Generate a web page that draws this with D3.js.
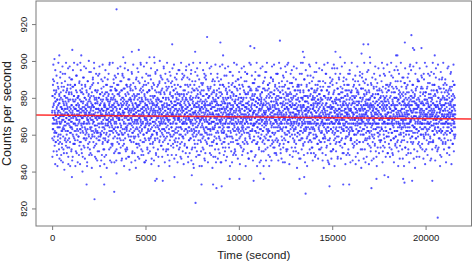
<!DOCTYPE html>
<html>
<head>
<meta charset="utf-8">
<script src="https://cdn.jsdelivr.net/npm/d3@7"></script>
<style>
body { margin: 0; background: #fff; }
svg { display: block; }
text { font-family: "Liberation Sans", Arial, sans-serif; fill: #222; }
</style>
</head>
<body>
<svg width="472" height="262"></svg>
<script>
// readings every 5 seconds: the "even" arrays hold t = 0, 10, 20 ... of each hour,
// the "odd" arrays hold t = 5, 15, 25 ...
var sampleStep = 10;
var oddOffset = 5;

var hour1Even = [
872,858,881,866,875,890,863,869,851,877,884,868,859,873,880,862,871,895,866,878,
856,870,883,861,874,867,849,879,888,864,872,857,876,869,885,860,873,852,882,867,
877,864,870,891,858,875,866,880,846,871,862,886,874,855,868,879,863,893,870,859,
884,868,873,850,876,865,881,871,857,889,867,878,862,874,854,883,869,877,860,872,
866,880,853,875,887,862,871,844,878,868,882,858,873,865,897,870,856,879,864,885,
874,861,869,883,852,876,867,890,863,872,848,879,870,886,859,875,866,881,855,871,
862,878,887,857,870,874,865,851,884,869,876,860,892,873,863,880,868,845,877,870,
881,866,859,875,871,888,854,868,879,863,874,899,861,870,856,883,872,865,878,850,
869,885,873,862,848,877,866,882,870,858,891,867,875,853,880,864,871,887,860,874,
857,872,879,866,884,861,873,843,868,876,863,889,870,855,878,867,882,859,871,894,
866,875,852,880,869,863,886,874,858,871,877,864,849,883,870,860,876,868,890,862,
873,856,881,867,875,896,861,870,879,854,865,884,872,863,877,847,869,880,858,874,
883,868,862,877,851,872,888,866,874,859,880,870,864,893,857,876,869,882,861,873,
860,879,870,846,885,867,874,862,878,871,855,889,866,873,881,858,870,864,876,852,
877,863,891,870,858,875,866,883,872,849,868,880,861,874,887,865,871,856,879,868,
865,874,857,882,869,876,862,898,871,860,878,867,884,853,873,866,880,870,845,875,
871,886,864,873,855,879,868,861,876,890,863,872,850,881,867,875,859,885,870,864,
878,862,870,884,866,852,874,869,887,858,877,864,871,893,860,876,868,882,855,872];

var hour2Even = [
869,881,858,874,866,889,871,853,877,864,884,870,861,875,847,880,868,892,863,873,
876,860,871,885,867,855,879,872,863,896,870,858,882,866,874,851,878,869,887,862,
864,877,852,870,883,868,875,860,890,873,866,879,848,871,862,886,874,857,880,869,
885,863,872,878,856,869,894,865,874,850,881,867,876,861,871,888,859,873,866,879,
858,874,867,881,870,846,877,863,885,872,855,868,891,864,876,870,853,882,868,875,
873,866,889,859,876,871,862,880,854,869,884,873,861,877,867,898,865,871,849,883,
862,879,870,874,851,886,866,872,878,860,870,887,856,875,864,881,869,845,877,868,
880,857,874,866,893,869,876,861,872,883,852,867,879,870,863,888,874,858,871,865,
870,884,862,877,868,855,881,873,866,890,859,875,869,847,878,864,885,871,860,876,
867,872,880,853,874,865,887,870,862,876,881,857,871,894,866,873,850,879,868,883,
876,861,869,886,858,877,872,864,879,848,870,883,867,874,856,889,865,872,878,862,
859,882,873,866,891,868,854,878,871,863,885,875,860,869,880,852,876,867,896,870,
883,868,857,875,870,862,888,873,866,879,851,871,864,884,877,859,869,890,872,865,
871,855,880,867,874,886,863,870,846,876,868,882,860,873,892,866,878,854,870,881,
864,877,871,889,859,872,866,881,875,853,869,884,862,876,870,857,887,868,874,861,
878,863,885,870,849,874,880,866,893,861,872,877,856,868,882,873,864,879,869,852,
869,874,860,882,867,876,855,871,886,864,878,870,847,875,863,890,872,859,880,866,
875,866,891,858,873,869,881,862,877,854,871,884,867,874,860,879,868,895,863,872];

var hour3Even = [
866,879,853,872,887,861,870,875,848,868,883,864,877,869,857,890,871,862,876,867,
873,858,881,866,870,895,863,874,852,879,868,885,860,872,866,878,844,871,884,863,
861,876,869,884,855,872,866,889,873,859,877,870,862,881,867,851,875,864,892,870,
878,865,872,857,880,869,876,862,886,871,849,874,867,883,860,873,879,856,868,875,
869,884,860,875,866,878,853,870,888,864,872,859,881,868,876,893,862,871,846,877,
857,872,879,864,890,868,874,861,870,882,855,867,876,871,863,885,873,858,880,866,
876,863,868,881,872,850,877,869,862,886,874,866,897,860,871,878,854,875,867,883,
864,880,871,856,875,867,884,863,878,870,859,889,865,873,848,879,869,876,861,871,
882,868,855,877,869,891,862,874,866,880,871,852,876,864,885,870,858,873,867,887,
870,857,876,866,883,872,845,869,878,861,874,868,887,863,871,880,866,856,875,864,
861,878,869,892,858,873,866,877,853,870,884,867,874,860,879,871,848,882,869,876,
875,866,880,862,871,855,886,870,864,877,869,894,859,872,867,881,873,861,876,851,
868,883,859,874,866,879,871,888,863,856,875,869,882,866,873,850,878,864,870,886,
877,862,872,867,849,881,874,860,869,885,866,876,857,871,890,864,879,868,855,873,
863,875,887,858,870,866,882,873,854,877,869,862,880,871,866,896,860,874,878,867,
871,856,868,879,864,876,852,884,870,861,873,889,866,875,857,869,882,863,877,870,
880,867,874,861,893,869,877,855,872,866,883,870,847,878,864,871,886,859,873,868,
858,873,866,885,870,862,879,868,876,851,874,881,863,870,888,865,872,857,879,866];

var hour4Even = [
872,865,881,857,876,869,890,862,873,866,849,878,870,884,861,875,867,855,880,871,
864,877,868,886,859,872,866,879,853,874,870,892,863,876,858,882,869,873,846,878,
879,860,874,867,883,871,856,876,868,888,862,870,877,851,873,866,885,859,872,869,
866,884,871,852,878,865,873,894,860,869,881,867,875,862,870,857,887,874,863,877,
873,857,880,868,862,876,848,871,883,866,874,859,891,870,878,864,869,880,855,872,
861,875,866,889,873,856,870,878,864,882,871,853,876,868,886,861,874,867,879,850,
877,868,858,874,881,866,893,862,872,876,857,884,869,865,873,888,854,871,866,880,
869,883,872,863,850,877,867,880,871,859,875,866,886,862,877,870,845,873,882,864,
855,871,886,869,876,861,874,868,897,857,870,879,864,872,852,881,867,875,860,889,
874,862,868,881,856,873,879,866,870,885,861,872,876,849,868,883,871,863,878,867,
882,866,875,853,870,888,864,877,869,872,858,880,867,891,862,874,866,856,876,871,
860,876,869,884,863,871,851,879,874,866,882,870,859,875,868,887,861,873,880,865,
871,887,857,873,866,878,869,862,884,870,847,876,864,880,873,858,869,893,867,875,
866,872,880,861,876,854,883,868,875,863,890,869,873,856,878,866,881,870,862,874,
878,863,871,886,858,870,867,875,850,881,872,864,877,869,884,860,873,866,888,857,
863,881,874,867,892,861,876,869,872,856,879,866,885,871,853,874,868,880,864,877,
875,858,866,879,870,884,862,873,848,877,869,883,860,872,866,894,875,859,870,881,
868,876,887,855,873,866,879,870,863,882,857,871,877,865,889,869,852,878,872,861];

var hour5Even = [
870,856,879,867,884,862,873,868,850,877,865,889,871,858,875,866,881,860,874,869,
881,866,872,858,876,893,863,870,877,853,868,884,861,873,866,879,846,871,886,864,
862,875,868,883,857,871,866,879,872,888,855,874,869,863,880,867,875,851,870,878,
875,861,887,870,866,852,877,864,883,869,873,860,896,866,872,878,858,868,874,863,
867,880,873,856,879,868,862,885,870,847,876,866,871,882,859,874,867,890,864,872,
856,874,866,878,870,886,861,873,857,880,868,875,863,871,853,883,869,876,866,880,
878,865,891,862,873,868,855,881,874,866,870,884,858,877,864,872,849,879,867,871,
864,882,870,875,850,876,869,863,887,871,860,873,879,866,893,862,874,868,857,883,
873,858,876,866,884,863,872,879,868,855,877,870,862,886,871,866,881,854,875,869,
860,877,868,889,865,872,848,874,881,863,869,876,857,873,867,884,870,861,878,866,
883,869,862,874,878,856,871,866,892,870,864,880,873,852,876,868,885,862,870,875,
868,852,879,870,863,885,873,867,876,860,882,869,874,866,888,857,871,878,845,872,
876,866,871,882,857,873,868,894,862,877,870,855,879,867,873,862,884,869,876,859,
861,879,874,866,880,869,851,876,872,864,887,870,860,875,866,881,873,856,868,878,
874,863,886,870,858,875,867,880,854,871,877,866,890,863,872,869,878,848,874,866,
869,884,861,873,876,866,882,859,870,879,864,872,857,885,868,875,862,880,871,853,
857,871,878,864,889,870,863,876,868,883,873,851,869,877,866,896,860,874,867,879,
880,867,873,856,871,864,885,870,878,862,869,881,874,859,876,866,887,872,850,868];

var hour6Even = [
866,878,872,859,884,868,875,853,870,887,863,874,869,881,857,872,866,892,861,876,
873,861,868,879,866,849,877,870,885,864,873,858,880,868,875,862,883,870,855,874,
859,876,886,867,872,880,862,871,856,878,869,895,864,873,867,851,879,866,884,870,
877,864,870,854,881,873,866,889,860,870,876,863,874,882,857,868,871,878,847,867,
870,883,861,876,868,857,879,872,866,888,871,853,876,864,880,869,862,886,873,866,
862,871,879,866,891,864,873,850,877,869,883,860,871,866,876,897,862,874,868,881,
879,867,856,873,870,884,862,876,869,859,880,872,865,887,856,873,878,864,870,852,
868,874,882,861,877,866,872,858,885,870,863,876,848,879,869,874,861,890,867,875,
855,880,869,875,862,889,870,866,878,854,873,867,883,871,860,877,866,872,886,863,
874,866,878,852,871,868,882,863,876,870,893,859,873,866,879,868,851,881,870,864,
883,860,871,877,866,874,857,885,869,862,878,870,866,888,872,855,876,863,880,869,
866,875,892,864,870,858,880,873,867,876,847,871,884,865,872,879,862,870,856,877,
871,856,868,881,874,866,887,860,873,869,882,864,876,853,870,891,866,875,868,862,
878,869,861,876,883,852,870,875,864,880,870,858,874,867,885,862,872,878,849,873,
863,885,874,866,857,879,868,890,870,862,876,871,855,881,866,873,887,860,869,876,
870,866,879,871,888,861,873,856,877,867,884,869,862,875,870,850,879,866,883,868,
857,877,870,884,864,872,866,880,853,874,869,886,861,877,871,866,894,863,872,878,
875,862,868,873,879,855,871,882,866,870,876,860,887,867,874,858,880,869,864,871];

var hour1Odd = [
873,848,881,863,887,869,898,857,876,866,889,861,901,854,872,882,844,878,856,870,
861,884,868,892,851,875,866,879,843,871,859,886,873,899,864,855,877,869,881,847,
879,866,856,872,894,860,883,870,849,875,867,888,853,874,862,897,871,845,878,864,
852,877,870,886,863,841,874,881,867,893,858,872,865,880,899,856,869,876,850,884,
885,862,874,857,871,896,848,879,866,870,883,853,891,868,875,861,843,887,872,864,
867,890,851,876,882,864,871,846,886,873,860,895,869,855,878,866,881,899,858,874,
870,855,887,866,843,879,874,862,892,868,876,850,883,871,865,898,857,873,880,862,
859,881,873,849,876,867,889,856,872,844,884,870,863,895,878,866,852,874,887,869,
883,864,840,875,869,891,861,878,854,873,866,897,872,858,880,847,870,886,863,876,
874,896,862,871,858,883,869,845,877,866,889,853,875,868,881,860,900,872,849,879,
856,872,885,864,878,850,873,894,868,881,862,875,842,870,887,859,876,866,891,871,
888,867,875,853,899,871,859,880,865,848,877,869,884,862,874,893,855,879,870,861,
865,846,878,870,884,861,892,874,857,869,880,851,873,897,866,876,843,882,859,872,
877,871,860,890,866,874,849,883,870,864,898,856,879,868,852,886,873,861,875,844,
848,882,869,876,857,895,865,871,887,860,873,879,842,868,883,874,856,890,866,878,
881,859,893,867,872,852,877,864,899,875,846,870,886,862,879,868,884,855,873,865,
862,876,854,882,899,869,874,858,880,871,888,863,877,845,866,892,870,879,851,884,
875,891,867,846,873,884,861,878,870,856,882,896,864,872,887,850,869,876,860,868];

var hour2Odd = [
868,883,850,874,862,897,871,857,879,865,889,846,876,870,884,860,893,872,854,878,
880,857,872,891,866,843,877,869,885,861,874,899,852,870,864,881,847,876,887,863,
853,874,886,865,878,870,895,848,872,882,859,868,876,890,841,873,866,879,857,884,
887,866,859,879,845,873,868,893,861,877,851,884,870,864,898,875,856,882,871,862,
871,850,880,868,886,859,874,877,842,890,866,872,881,855,875,867,896,863,879,848,
860,894,873,855,869,882,847,876,888,864,878,870,857,899,868,885,874,852,866,880,
878,863,891,872,856,875,867,884,849,871,860,897,873,845,882,869,858,889,864,876,
865,879,846,887,873,861,899,868,876,853,883,866,875,862,892,850,878,871,884,857,
884,872,866,851,892,870,858,879,863,896,874,844,869,886,860,877,881,855,873,867,
856,888,877,870,862,846,881,873,899,867,858,884,872,893,864,875,849,870,878,861,
876,860,895,865,880,873,852,887,869,875,843,879,863,871,888,857,900,866,874,883,
892,869,854,878,867,884,871,861,876,848,890,874,866,856,880,872,863,897,859,870,
863,877,882,845,873,866,893,858,870,880,869,886,852,875,861,899,876,868,885,849,
874,852,868,889,861,879,876,870,843,894,857,872,883,866,874,859,888,878,864,871,
849,886,875,862,896,870,880,855,871,867,884,860,898,873,847,878,869,891,856,876,
882,866,858,876,871,890,864,879,854,883,873,845,869,887,877,862,895,871,858,868,
870,895,881,853,877,864,886,848,873,860,899,876,868,882,856,874,866,893,879,851,
859,873,867,884,844,882,870,892,866,878,855,871,887,863,876,850,880,869,897,874];

var hour3Odd = [
866,882,853,875,891,862,870,878,845,886,869,873,857,898,864,876,850,880,868,887,
879,858,871,893,867,846,883,874,862,870,889,853,877,865,880,899,859,872,842,875,
857,887,876,862,872,853,894,868,880,864,875,848,871,885,860,869,896,877,855,882,
884,869,849,880,861,875,866,890,873,843,878,868,899,857,874,882,864,851,888,870,
872,843,877,865,887,858,881,869,895,874,852,884,863,870,878,847,891,867,875,861,
850,876,892,869,873,882,856,864,878,899,867,860,886,873,845,880,870,858,884,866,
881,866,860,896,854,871,885,876,863,869,893,849,874,882,867,856,877,889,842,872,
863,890,871,848,879,867,857,883,869,887,875,864,852,878,898,866,873,845,881,858,
878,855,884,873,866,893,870,847,876,861,880,871,889,859,868,883,850,874,897,864,
868,881,845,867,890,876,862,874,855,882,870,898,865,877,853,887,861,879,872,849,
886,862,874,856,877,851,896,866,880,872,846,885,868,892,875,859,870,883,864,877,
859,873,897,880,864,888,869,853,871,866,884,877,843,874,862,894,880,856,869,871,
874,887,866,845,883,870,858,892,876,849,868,881,872,862,899,865,886,870,852,878,
851,869,879,889,857,873,881,866,898,863,876,855,884,870,847,875,862,890,867,880,
877,894,861,870,874,844,885,872,859,878,867,891,853,880,869,864,876,849,887,863,
865,851,886,876,862,880,869,897,871,855,883,873,866,894,858,875,843,871,882,868,
889,875,856,867,893,864,877,850,882,870,861,886,874,847,876,869,899,860,873,884,
862,880,873,898,851,875,866,884,869,892,856,877,862,882,871,846,879,888,865,872];

var hour4Odd = [
873,859,888,866,876,848,882,869,894,862,878,871,855,885,867,899,875,843,880,864,
856,884,870,877,892,861,873,852,879,868,886,845,874,866,881,858,896,870,863,877,
880,868,851,883,865,875,897,862,870,885,857,876,843,889,872,864,879,855,871,891,
867,894,876,858,872,846,880,868,863,877,899,866,884,853,870,887,861,874,849,882,
885,862,843,874,888,869,859,881,875,854,867,891,872,878,846,883,865,897,870,857,
861,876,890,869,853,882,873,866,898,860,884,850,875,868,887,857,871,880,864,893,
878,849,867,885,877,871,856,893,864,879,870,846,881,874,862,899,868,886,873,855,
864,883,877,852,896,866,880,870,847,872,889,863,857,884,876,868,892,853,878,869,
891,870,858,880,866,874,845,887,869,860,883,877,894,864,871,851,875,882,866,898,
852,877,885,868,899,856,874,862,882,870,844,878,869,888,859,876,865,893,872,880,
875,888,866,895,860,879,869,848,876,886,865,872,851,881,897,863,870,857,884,867,
870,853,881,874,864,890,855,877,871,896,867,842,886,873,861,879,884,869,850,876,
886,866,872,847,878,860,893,868,883,857,875,869,899,862,887,874,852,880,865,871,
858,879,899,870,855,884,866,876,849,881,862,890,873,867,845,878,871,864,895,873,
881,864,874,887,869,843,878,859,892,866,880,873,856,875,884,867,898,861,870,852,
869,897,857,866,882,872,850,885,864,876,853,889,870,879,863,846,881,874,891,860,
876,850,883,863,873,894,867,880,858,870,887,849,878,865,899,872,859,884,866,877,
855,885,868,879,847,877,889,864,874,852,896,870,862,882,875,856,886,869,880,866];

var hour5Odd = [
870,884,853,876,861,895,867,879,846,872,858,886,866,874,842,881,864,898,870,856,
859,873,888,866,880,849,871,893,862,877,868,854,884,875,864,899,857,869,880,845,
882,862,870,844,875,866,886,858,891,869,876,851,880,863,872,847,889,867,874,896,
866,890,878,862,852,882,869,875,898,857,866,884,843,872,879,861,870,893,855,877,
851,877,864,888,871,859,896,868,873,848,885,870,862,879,866,891,874,856,882,868,
879,866,893,854,876,871,847,883,864,880,869,897,858,873,885,850,868,877,862,889,
863,850,876,870,887,865,878,899,855,872,844,881,874,867,859,890,876,862,884,871,
887,872,859,881,866,893,852,874,869,884,861,877,849,895,870,864,880,845,873,858,
874,857,883,864,899,869,881,862,877,846,872,890,866,853,878,871,887,860,868,880,
856,880,869,892,874,844,866,885,860,878,870,855,883,872,897,865,850,876,889,862,
882,868,846,877,862,887,873,856,894,866,880,874,860,869,885,842,878,866,871,891,
867,893,874,860,880,856,889,871,847,876,863,899,870,881,852,874,865,884,858,877,
890,861,879,872,848,883,864,876,870,858,887,866,875,895,862,879,844,868,883,854,
858,875,866,899,869,877,853,888,862,881,871,846,876,865,891,870,859,882,873,866,
876,847,885,868,893,860,872,880,855,869,897,863,882,851,874,866,886,871,843,878,
864,888,871,853,876,882,861,896,873,866,850,884,868,877,860,892,875,856,880,869,
881,869,857,884,863,874,899,866,878,845,870,886,854,881,875,862,893,867,858,876,
853,878,892,866,880,870,848,875,887,862,876,859,883,871,898,866,850,879,869,884];

var hour6Odd = [
872,861,886,855,877,869,894,866,880,848,874,863,888,870,857,899,876,852,883,867,
886,869,850,878,865,891,873,858,871,883,845,876,866,895,862,880,869,854,874,889,
859,880,874,897,866,853,885,870,862,876,889,857,879,843,872,866,882,893,860,871,
877,847,865,883,873,880,861,899,868,856,872,886,864,874,852,891,870,878,866,881,
864,891,878,859,843,874,888,865,877,870,896,853,882,868,875,860,885,849,872,876,
883,870,856,887,876,862,871,852,893,866,880,875,845,878,864,889,867,898,858,873,
850,876,895,868,881,872,859,878,865,887,855,869,883,861,897,874,847,880,870,864,
878,864,881,842,870,893,867,884,874,858,877,899,863,872,886,851,876,866,889,859,
868,889,862,876,856,879,848,872,896,869,864,881,874,853,870,885,860,892,877,866,
891,855,873,866,885,869,877,860,847,883,872,890,858,876,864,871,899,844,879,868,
861,883,870,852,874,897,863,879,871,886,849,867,877,893,860,875,866,882,856,873,
875,866,888,871,859,846,882,869,856,878,894,874,865,880,870,852,887,873,899,862,
857,877,865,884,893,872,860,887,876,863,870,846,881,868,875,896,854,871,866,884,
884,872,851,869,876,864,898,866,880,853,886,874,862,890,872,858,877,843,868,879,
869,894,876,861,848,883,871,875,862,891,866,880,856,873,899,864,870,885,852,876,
880,858,883,874,866,890,855,877,869,845,879,867,887,860,871,881,864,896,873,862,
866,871,897,853,882,869,876,849,885,872,861,878,870,893,857,876,884,865,844,881,
873,886,862,879,870,855,889,868,875,898,864,851,881,871,866,887,859,876,873,860];

// scattered readings far from the mean (time in s, counts)
var tailTimes = [3450, 8300, 9010, 6430, 385, 1080, 1560, 3810, 4270, 4640, 7660, 10615, 9155, 5215, 5465,
  19240, 12200, 10830, 16675, 16925, 18890, 13430, 15175, 19320, 19390, 19780, 16570, 13500, 15430, 17020,
  18420, 18490, 20490,
  20650, 2270, 7680, 13575, 3325, 1845, 2790, 8000, 8620, 8800, 9080, 14855, 15590, 15910, 17100, 18870,
  19280, 20360, 1060, 2610, 3450, 5520, 5600, 5925, 6550, 7480, 9510, 10030, 10790, 11150, 11330, 13250,
  13500, 17370, 17800, 17995, 18800];
var tailCounts = [928, 913, 910, 909, 903, 906, 903, 902, 905, 906, 905, 908, 903, 902, 902,
  914, 911, 907, 909, 909, 910, 905, 905, 907, 906, 907, 904, 902, 902, 902,
  903, 903, 903,
  815, 825, 823, 828, 829, 833, 833, 833, 833, 831, 832, 832, 833, 833, 831, 834,
  835, 835, 837, 837, 839, 835, 836, 835, 837, 838, 836, 836, 835, 839, 836, 836,
  837, 836, 838, 837, 836];

// fitted trend line, value at start and end of the run
var fitTimes = [0, 21600];
var fitCounts = [870.6, 868.6];

var xTicks = [0, 5000, 10000, 15000, 20000];
var yTicks = [820, 840, 860, 880, 900, 920];

var evenBlocks = [hour1Even, hour2Even, hour3Even, hour4Even, hour5Even, hour6Even];
var oddBlocks = [hour1Odd, hour2Odd, hour3Odd, hour4Odd, hour5Odd, hour6Odd];
var points = [];
evenBlocks.forEach(function(block, h) {
  block.forEach(function(c, i) {
    points.push({t: h * 3600 + i * sampleStep, c: c});
  });
});
oddBlocks.forEach(function(block, h) {
  block.forEach(function(c, i) {
    points.push({t: h * 3600 + oddOffset + i * sampleStep, c: c});
  });
});
tailTimes.forEach(function(t, i) {
  points.push({t: t, c: tailCounts[i]});
});

var margins = {left: 36, right: 471.5, top: 1, bottom: 226};

// R style: range padded by 4% on each side
var tExt = d3.extent(points, d => d.t);
var cExt = d3.extent(points, d => d.c);
var tPad = (tExt[1] - tExt[0]) * 0.04;
var cPad = (cExt[1] - cExt[0]) * 0.04;

var xScale = d3.scaleLinear().domain([tExt[0] - tPad, tExt[1] + tPad]).range([margins.left, margins.right]);
var yScale = d3.scaleLinear().domain([cExt[0] - cPad, cExt[1] + cPad]).range([margins.bottom, margins.top]);

var svg = d3.select('svg');

svg.append('g')
  .selectAll('circle')
  .data(points)
  .enter()
  .append('circle')
  .attr('cx', d => xScale(d.t))
  .attr('cy', d => yScale(d.c))
  .attr('r', 1.1)
  .style('fill', '#2a2aff')
  .style('fill-opacity', 0.8);

// abline: extend the fitted line over the whole plot region
var slope = (fitCounts[1] - fitCounts[0]) / (fitTimes[1] - fitTimes[0]);
var t0 = xScale.domain()[0], t1 = xScale.domain()[1];
svg.append('line')
  .attr('x1', xScale(t0))
  .attr('x2', xScale(t1))
  .attr('y1', yScale(fitCounts[0] + slope * (t0 - fitTimes[0])))
  .attr('y2', yScale(fitCounts[0] + slope * (t1 - fitTimes[0])))
  .style('stroke', '#ff1a1a')
  .style('stroke-width', 1.3)
  .style('stroke-opacity', 0.9);

svg.append('rect')
  .attr('x', margins.left)
  .attr('y', margins.top)
  .attr('width', margins.right - margins.left)
  .attr('height', margins.bottom - margins.top)
  .style('fill', 'none')
  .style('stroke', '#7a7a7a')
  .style('stroke-width', 1);

var xAxis = svg.append('g')
  .attr('transform', `translate(0, ${margins.bottom})`)
  .call(d3.axisBottom(xScale).tickValues(xTicks).tickSize(4).tickPadding(4).tickFormat(d3.format('d')));
xAxis.select('.domain').remove();
xAxis.selectAll('line').style('stroke', '#7a7a7a');
xAxis.selectAll('text').style('font-size', '9.5px').style('fill', '#222');

var yAxis = svg.append('g')
  .attr('transform', `translate(${margins.left}, 0)`)
  .call(d3.axisLeft(yScale).tickValues(yTicks).tickSize(4).tickFormat(d3.format('d')));
yAxis.select('.domain').remove();
yAxis.selectAll('line').style('stroke', '#7a7a7a');
yAxis.selectAll('text')
  .attr('transform', 'rotate(-90)')
  .attr('x', 0)
  .attr('y', -9)
  .attr('dy', 0)
  .style('text-anchor', 'middle')
  .style('font-size', '9.5px')
  .style('fill', '#222');

svg.append('text')
  .attr('x', (margins.left + margins.right) / 2)
  .attr('y', 258.5)
  .style('text-anchor', 'middle')
  .style('font-size', '11.5px')
  .text('Time (second)');

svg.append('text')
  .attr('transform', `translate(10.5, ${(margins.top + margins.bottom) / 2}) rotate(-90)`)
  .style('text-anchor', 'middle')
  .style('font-size', '12.5px')
  .text('Counts per second');
</script>
</body>
</html>
